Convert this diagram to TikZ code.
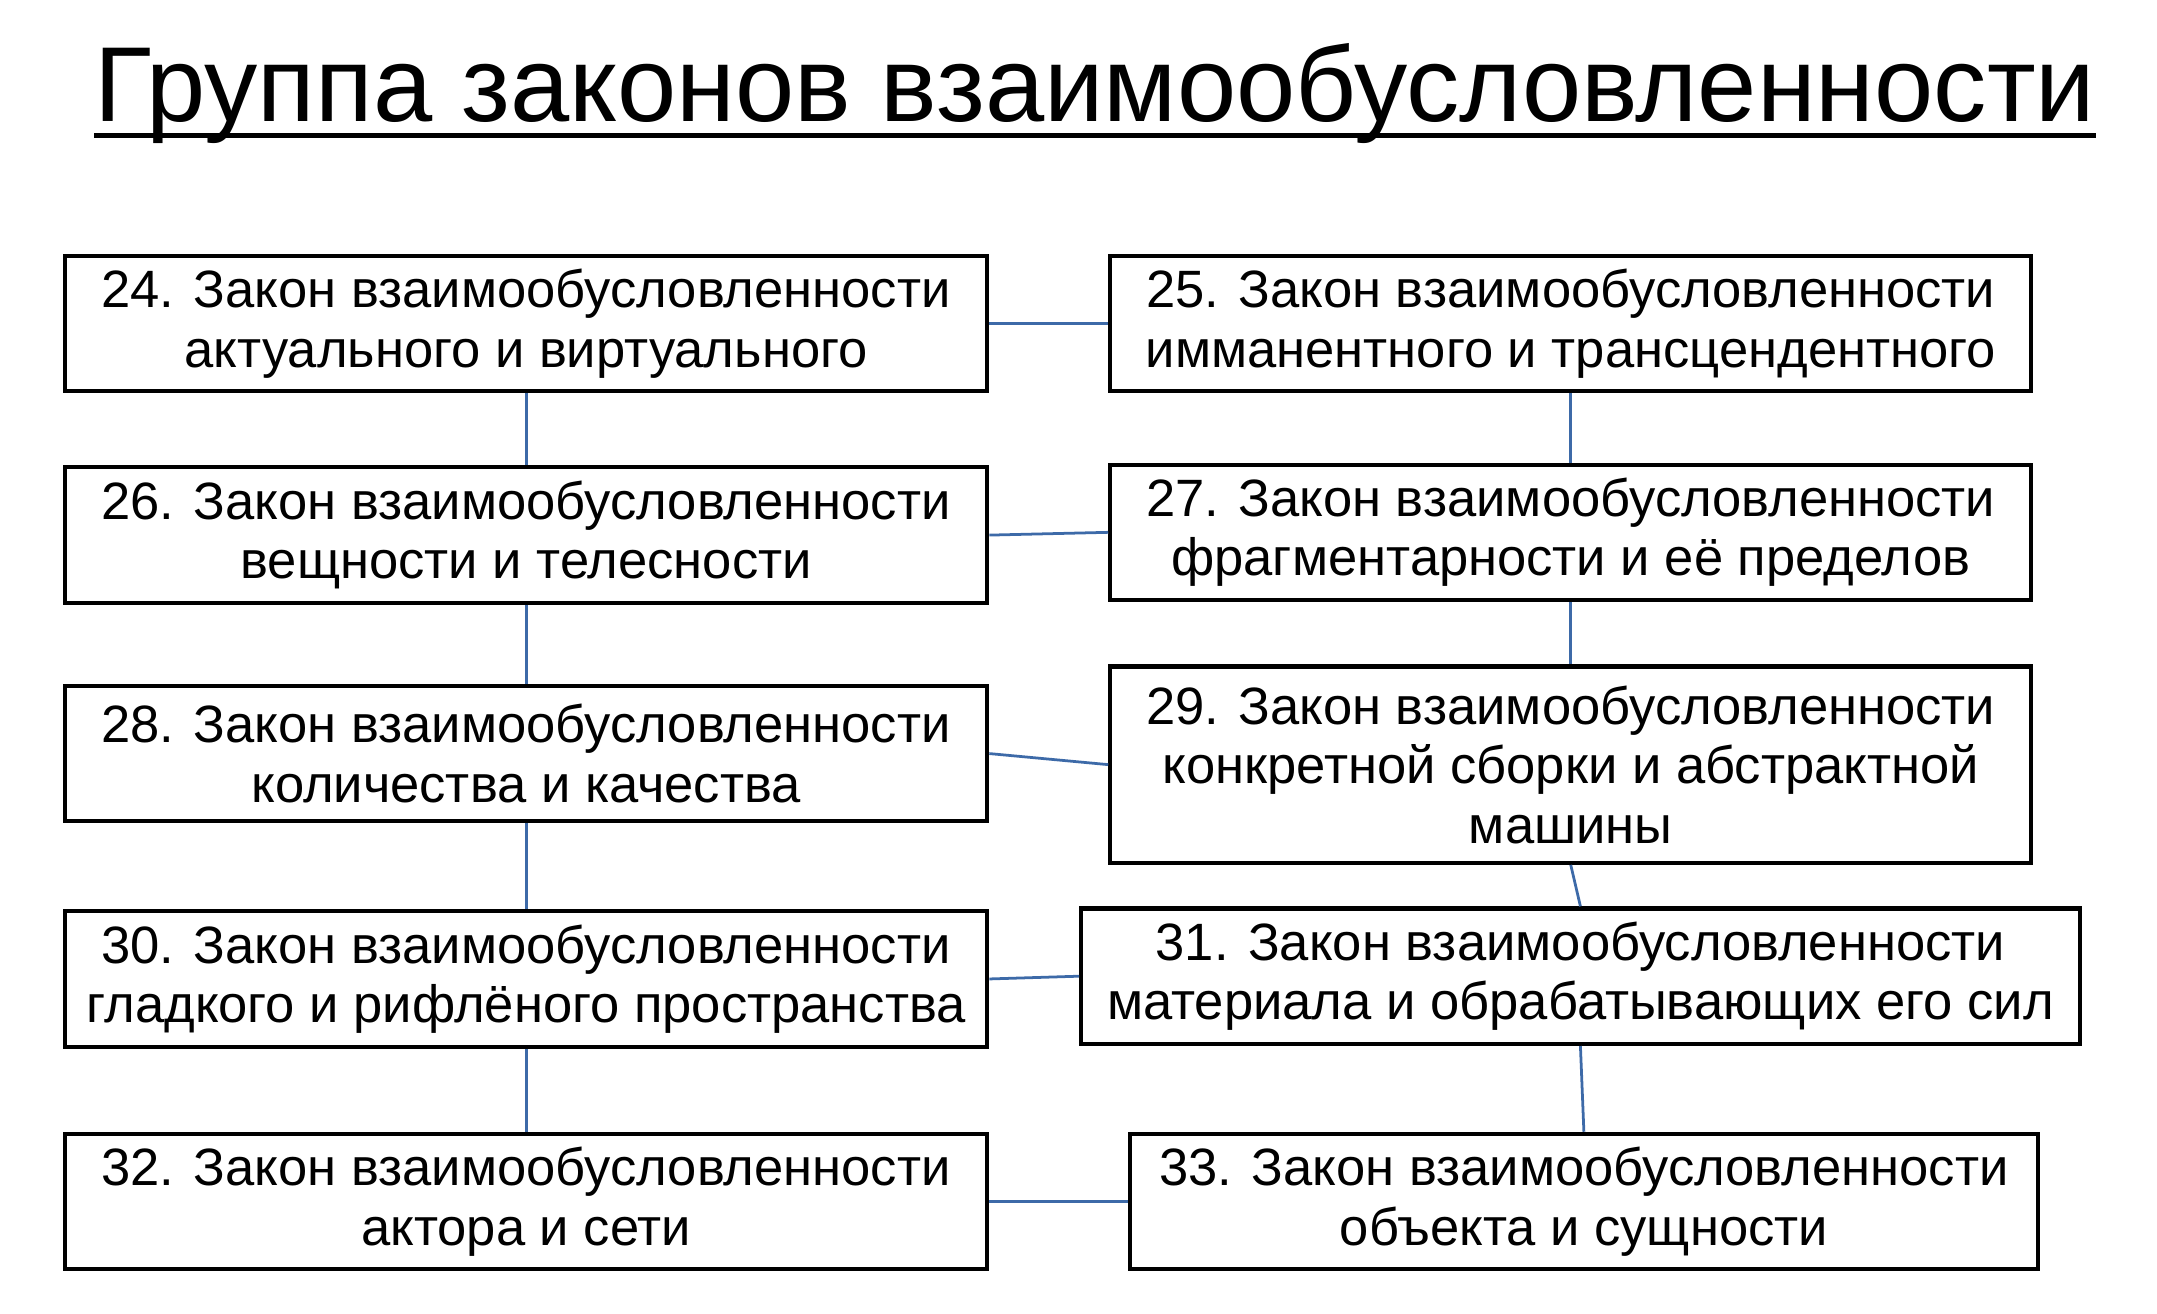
\documentclass[tikz,border=0pt]{standalone}
\usepackage{fontspec}
\setmainfont{Liberation Sans}
\begin{document}
\begin{tikzpicture}[x=1pt,y=-1pt,
  lawbox/.style={draw=black,line width=3pt,inner sep=0pt,align=center,font=\fontsize{38}{43}\selectfont},
  link/.style={draw={rgb,255:red,61;green,106;blue,168},line width=2pt}]
\useasboundingbox (0,0) rectangle (1560,950);
\node[font=\fontsize{77}{90}\selectfont,inner sep=0pt,anchor=base] (title) at (792,88) {Группа законов взаимообусловленности};
\draw[line width=3.5pt] (title.west |- 0,98) -- (title.east |- 0,98);
\newcommand{\lbox}[6]{\node[lawbox,minimum width=#4-#2,minimum height=#5-#3] (#1) at ({(#2+#4)/2},{(#3+#5)/2}) {#6};}
\lbox{b24}{47}{185}{714}{283}{24. Закон взаимообусловленности\\актуального и виртуального}
\lbox{b25}{803}{185}{1469}{283}{25. Закон взаимообусловленности\\имманентного и трансцендентного}
\lbox{b26}{47}{338}{714}{436}{26. Закон взаимообусловленности\\вещности и телесности}
\lbox{b27}{803}{336}{1469}{434}{27. Закон взаимообусловленности\\фрагментарности и её пределов}
\lbox{b28}{47}{496}{714}{594}{28. Закон взаимообусловленности\\количества и качества}
\lbox{b29}{803}{482}{1469}{624}{29. Закон взаимообусловленности\\конкретной сборки и абстрактной\\машины}
\lbox{b30}{47}{659}{714}{757}{30. Закон взаимообусловленности\\гладкого и рифлёного пространства}
\lbox{b31}{782}{657}{1504}{755}{31. Закон взаимообусловленности\\материала и обрабатывающих его сил}
\lbox{b32}{47}{820}{714}{918}{32. Закон взаимообусловленности\\актора и сети}
\lbox{b33}{817}{820}{1474}{918}{33. Закон взаимообусловленности\\объекта и сущности}
\draw[link] (b24.east) -- (b25.west);
\draw[link] (b26.east) -- (b27.west);
\draw[link] (b28.east) -- (b29.west);
\draw[link] (b30.east) -- (b31.west);
\draw[link] (b32.east) -- (b33.west);
\draw[link] (b24.south) -- (b26.north);
\draw[link] (b26.south) -- (b28.north);
\draw[link] (b28.south) -- (b30.north);
\draw[link] (b30.south) -- (b32.north);
\draw[link] (b25.south) -- (b27.north);
\draw[link] (b27.south) -- (b29.north);
\draw[link] (b29.south) -- (b31.north);
\draw[link] (b31.south) -- (b33.north);
\end{tikzpicture}
\end{document}
